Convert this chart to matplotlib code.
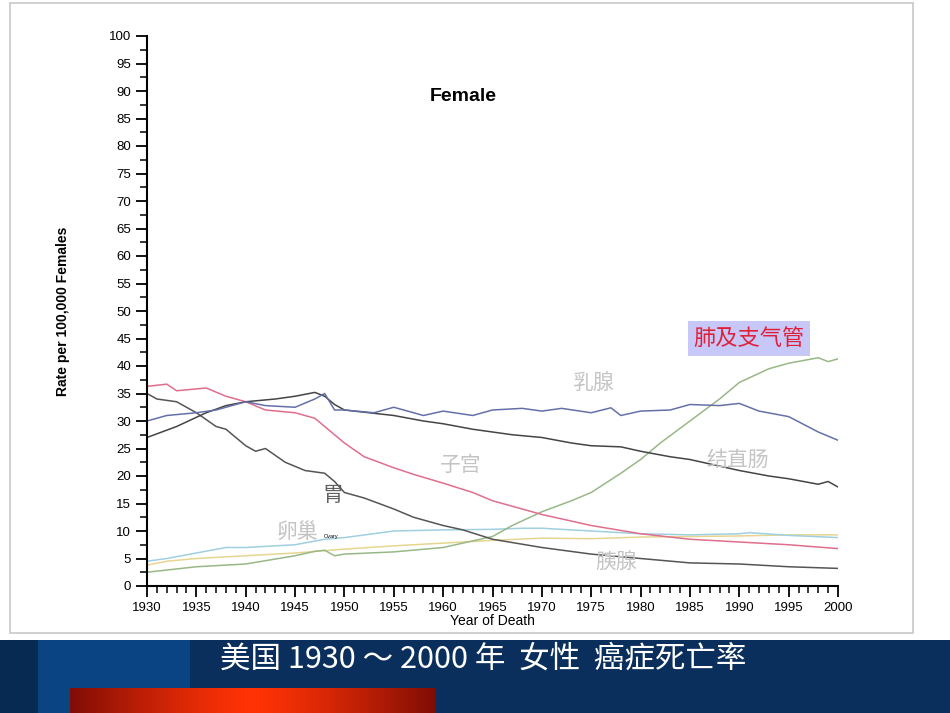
import numpy as np
import matplotlib.pyplot as plt
from matplotlib.patches import Rectangle

plt.rcParams['font.family'] = ['Liberation Sans Narrow', 'Liberation Sans', 'DejaVu Sans']

# valores (tasa por 100.000 mujeres)
lung_years = [1930, 1935, 1940, 1945, 1947, 1948, 1949, 1950, 1955, 1960, 1963, 1965, 1967,
              1970, 1973, 1975, 1978, 1980, 1982, 1985, 1988, 1990, 1993, 1995, 1998, 1999, 2000]
lung = [2.5, 3.5, 4.0, 5.5, 6.3, 6.5, 5.5, 5.8, 6.2, 7.0, 8.2, 9.0, 11.0,
        13.5, 15.5, 17.0, 20.5, 23.0, 26.0, 30.0, 34.0, 37.0, 39.5, 40.5, 41.5, 40.8, 41.3]

breast_years = [1930, 1932, 1935, 1937, 1940, 1942, 1945, 1947, 1948, 1949, 1950, 1953, 1955,
                1958, 1960, 1963, 1965, 1968, 1970, 1972, 1975, 1977, 1978, 1980, 1983, 1985,
                1988, 1990, 1992, 1995, 1998, 2000]
breast = [30.0, 31.0, 31.5, 32.0, 33.5, 32.8, 32.5, 34.0, 35.0, 32.0, 32.0, 31.5, 32.5,
          31.0, 31.8, 31.0, 32.0, 32.3, 31.8, 32.3, 31.5, 32.4, 31.0, 31.8, 32.0, 33.0,
          32.8, 33.2, 31.8, 30.8, 28.0, 26.5]

colorectal_years = [1930, 1933, 1936, 1938, 1940, 1943, 1945, 1947, 1948, 1949, 1950, 1955,
                    1958, 1960, 1963, 1965, 1967, 1970, 1973, 1975, 1978, 1980, 1983, 1985,
                    1988, 1990, 1993, 1995, 1998, 1999, 2000]
colorectal = [27.0, 29.0, 31.5, 32.8, 33.5, 34.0, 34.5, 35.2, 34.5, 33.0, 32.0, 31.0,
              30.0, 29.5, 28.5, 28.0, 27.5, 27.0, 26.0, 25.5, 25.3, 24.5, 23.5, 23.0,
              21.8, 21.0, 20.0, 19.5, 18.5, 19.0, 18.0]

uterus_years = [1930, 1932, 1933, 1936, 1938, 1940, 1942, 1945, 1947, 1948, 1950, 1952, 1955,
                1957, 1960, 1963, 1965, 1970, 1975, 1980, 1985, 1990, 1995, 2000]
uterus = [36.3, 36.7, 35.5, 36.0, 34.5, 33.5, 32.0, 31.5, 30.5, 29.0, 26.0, 23.5, 21.5,
          20.3, 18.7, 17.0, 15.5, 13.0, 11.0, 9.5, 8.5, 8.0, 7.5, 6.8]

stomach_years = [1930, 1931, 1933, 1935, 1937, 1938, 1940, 1941, 1942, 1944, 1946, 1948, 1949,
                 1950, 1952, 1955, 1957, 1960, 1962, 1965, 1970, 1975, 1980, 1985, 1990,
                 1995, 2000]
stomach = [35.0, 34.0, 33.5, 31.5, 29.0, 28.5, 25.5, 24.5, 25.0, 22.5, 21.0, 20.5, 19.0,
           17.0, 16.0, 14.0, 12.5, 11.0, 10.2, 8.5, 7.0, 5.8, 5.0, 4.2, 4.0, 3.5, 3.2]

pancreas_years = [1930, 1932, 1935, 1938, 1940, 1945, 1948, 1950, 1955, 1960, 1965, 1968,
                  1970, 1975, 1980, 1985, 1990, 1991, 1995, 2000]
pancreas = [4.5, 5.0, 6.0, 7.0, 7.0, 7.5, 8.5, 8.8, 10.0, 10.2, 10.3, 10.5,
            10.5, 10.0, 9.5, 9.3, 9.5, 9.7, 9.2, 8.8]

ovary_years = [1930, 1932, 1935, 1940, 1945, 1950, 1955, 1960, 1965, 1970, 1975, 1980,
               1985, 1990, 1995, 2000]
ovary = [3.8, 4.5, 5.0, 5.5, 6.0, 6.7, 7.3, 7.8, 8.3, 8.7, 8.6, 8.9, 9.0, 9.1, 9.3, 9.3]

W, H = 950, 713
fig = plt.figure(figsize=(W / 100, H / 100), dpi=100)

def px(x0, y0, x1, y1):
    # rectangulo en pixeles -> fracciones de la figura
    return (x0 / W, 1 - y1 / H, (x1 - x0) / W, (y1 - y0) / H)

# panel blanco con borde gris
x, y, w, h = px(10, 3, 913, 633)
fig.patches.append(Rectangle((x, y), w, h, transform=fig.transFigure,
                             facecolor='white', edgecolor='#c8c8c8', lw=1.2, zorder=-10))

# banda azul inferior
for (x0, x1, c) in [(0, 950, '#0b2f5c'), (0, 38, '#062a52'), (38, 190, '#0a4482')]:
    x, y, w, h = px(x0, 640, x1, 713)
    fig.patches.append(Rectangle((x, y), w, h, transform=fig.transFigure,
                                 facecolor=c, edgecolor='none', zorder=-10))

# barra roja con degradado
gax = fig.add_axes(px(70, 688, 435, 713))
t = np.linspace(-1, 1, 256)
k = 1 - np.abs(t) ** 1.3
grad = np.zeros((1, 256, 3))
grad[0, :, 0] = 0.5 + 0.5 * k
grad[0, :, 1] = 0.05 + 0.15 * k
grad[0, :, 2] = 0.02
gax.imshow(grad, aspect='auto', extent=[0, 1, 0, 1])
gax.axis('off')

ax = fig.add_axes((147 / W, 1 - 586 / H, (838 - 147) / W, (586 - 36) / H))
ax.patch.set_alpha(0)

ax.plot(ovary_years, ovary, color='#e6d690', lw=1.1)
ax.plot(pancreas_years, pancreas, color='#9fcfe0', lw=1.1)
ax.plot(lung_years, lung, color='#98b888', lw=1.1)
ax.plot(stomach_years, stomach, color='#555555', lw=1.1)
ax.plot(uterus_years, uterus, color='#e06e8c', lw=1.1)
ax.plot(colorectal_years, colorectal, color='#454545', lw=1.1)
ax.plot(breast_years, breast, color='#6670a8', lw=1.1)

ax.set_xlim(1930, 2000)
ax.set_ylim(0, 100)
ax.set_xticks(range(1930, 2001, 5))
ax.set_xticks(range(1930, 2001, 1), minor=True)
ax.set_yticks(range(0, 101, 5))
ax.set_yticks(np.arange(0, 100.1, 2.5), minor=True)
for s in ['top', 'right']:
    ax.spines[s].set_visible(False)
for s in ['left', 'bottom']:
    ax.spines[s].set_linewidth(1.5)
ax.tick_params(which='major', length=8, width=1.3, labelsize=9.5, direction='out')
ax.tick_params(which='minor', length=5, width=1.1, direction='out')
ax.set_xlabel('Year of Death', fontsize=10, labelpad=0)
ax.set_ylabel('Rate per 100,000 Females', fontsize=10, fontweight='bold', labelpad=28)

ax.text(1962, 89, 'Female', fontsize=14, fontweight='bold', ha='center', va='center')

cjk = ['Noto Sans CJK SC', 'DejaVu Sans']
ax.text(1991.0, 45.0, '肺及支气管', color='#e0203a', fontsize=16, family=cjk, ha='center', va='center',
        bbox=dict(boxstyle='square,pad=0.25', facecolor='#c8c8f8', edgecolor='none'))
ax.text(1975.2, 37.0, '乳腺', color='#c4c4c4', fontsize=15, family=cjk, ha='center', va='center')
ax.text(1961.8, 22.0, '子宫', color='#c4c4c4', fontsize=15, family=cjk, ha='center', va='center')
ax.text(1989.8, 23.0, '结直肠', color='#c4c4c4', fontsize=15, family=cjk, ha='center', va='center')
ax.text(1948.8, 16.5, '胃', color='#606060', fontsize=15, family=cjk, ha='center', va='center')
ax.text(1945.2, 9.8, '卵巢', color='#c4c4c4', fontsize=15, family=cjk, ha='center', va='center')
ax.text(1948.6, 9.0, 'Ovary', color='black', fontsize=4, ha='center', va='center')
ax.text(1977.5, 4.2, '胰腺', color='#c4c4c4', fontsize=15, family=cjk, ha='center', va='center')

fig.text(483 / W, 1 - 659 / H, '美国 1930 ～ 2000 年  女性  癌症死亡率', color='white',
         fontsize=22, family=cjk, ha='center', va='center')

fig.savefig('out.png', dpi=100)
